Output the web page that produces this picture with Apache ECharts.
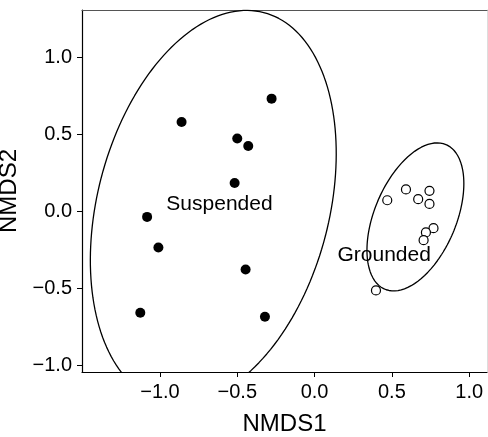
<!DOCTYPE html>
<html>
<head>
<meta charset="utf-8">
<title>NMDS</title>
<script src="https://cdn.jsdelivr.net/npm/echarts@6/dist/echarts.min.js"></script>
<style>
  html, body { margin: 0; padding: 0; background: #fff; }
  #main { width: 488px; height: 437px; }
</style>
</head>
<body>
<div id="main"></div>
<script>
// NMDS scores
var suspendedX = [-0.278, -0.86, -0.50, -0.429, -0.517, -1.083, -1.01, -0.446, -1.127, -0.321];
var suspendedY = [0.732, 0.581, 0.473, 0.425, 0.185, -0.035, -0.233, -0.376, -0.657, -0.683];
var groundedX = [0.47, 0.591, 0.670, 0.743, 0.743, 0.769, 0.720, 0.705, 0.397];
var groundedY = [0.073, 0.143, 0.080, 0.134, 0.049, -0.108, -0.136, -0.186, -0.512];

// ellipses: [centre x, centre y, semi-major, semi-minor, angle in degrees]
var suspendedEllipse = [-0.655, 0.03, 1.302, 0.749, 75.5];
var groundedEllipse = [0.652, -0.035, 0.509, 0.264, 67.2];

var groupLabels = ['Suspended', 'Grounded'];
var labelX = [-0.615, 0.45];
var labelY = [0.049, -0.282];

var tickValues = [-1.0, -0.5, 0.0, 0.5, 1.0];

var font = '"Liberation Sans", Arial, Helvetica, sans-serif';

function zipXY(xs, ys) {
  var out = [];
  for (var i = 0; i < xs.length; i++) out.push([xs[i], ys[i]]);
  return out;
}

function ellipsePoints(e) {
  var cx = e[0], cy = e[1], a = e[2], b = e[3], t = e[4] * Math.PI / 180;
  var pts = [];
  for (var k = 0; k <= 180; k++) {
    var p = 2 * Math.PI * k / 180;
    var ex = a * Math.cos(p), ey = b * Math.sin(p);
    pts.push([cx + ex * Math.cos(t) - ey * Math.sin(t), cy + ex * Math.sin(t) + ey * Math.cos(t)]);
  }
  return pts;
}

function fmt(v) {
  return (v < 0 ? '\u2212' : '') + Math.abs(v).toFixed(1);
}

var xMin = -1.504, xMax = 1.115, yMin = -1.041, yMax = 1.307;

var chart = echarts.init(document.getElementById('main'));

var labelData = [];
for (var i = 0; i < groupLabels.length; i++) {
  labelData.push({ name: groupLabels[i], value: [labelX[i], labelY[i]] });
}

chart.setOption({
  animation: false,
  grid: { left: 82, right: 1, top: 10, bottom: 65, containLabel: false, outerBoundsMode: 'none' },
  xAxis: [{
    type: 'value', min: xMin, max: xMax,
    name: 'NMDS1', nameLocation: 'middle', nameGap: 40,
    nameTextStyle: { fontFamily: font, fontSize: 24, color: '#000' },
    splitLine: { show: false },
    axisLine: { onZero: false, lineStyle: { color: '#000', width: 1.2 } },
    axisTick: { show: true, customValues: tickValues, length: 5, lineStyle: { color: '#000' } },
    axisLabel: { customValues: tickValues, formatter: fmt, fontFamily: font, fontSize: 20, color: '#000', margin: 10 }
  }, {
    type: 'value', position: 'top', min: xMin, max: xMax,
    splitLine: { show: false }, axisTick: { show: false }, axisLabel: { show: false },
    axisLine: { onZero: false, lineStyle: { color: '#555', width: 1.2 } }
  }],
  yAxis: [{
    type: 'value', min: yMin, max: yMax,
    name: 'NMDS2', nameLocation: 'middle', nameGap: 45,
    nameTextStyle: { fontFamily: font, fontSize: 24, color: '#000' },
    splitLine: { show: false },
    axisLine: { show: true, onZero: false, lineStyle: { color: '#000', width: 1.2 } },
    axisTick: { show: true, customValues: tickValues, length: 5, lineStyle: { color: '#000' } },
    axisLabel: { customValues: tickValues, formatter: fmt, fontFamily: font, fontSize: 20, color: '#000', margin: 10 }
  }, {
    type: 'value', position: 'right', min: yMin, max: yMax,
    splitLine: { show: false }, axisTick: { show: false }, axisLabel: { show: false },
    axisLine: { show: true, onZero: false, lineStyle: { color: '#ddd', width: 1 } }
  }],
  series: [{
    name: 'Suspended ellipse', type: 'line', data: ellipsePoints(suspendedEllipse),
    showSymbol: false, smooth: false, clip: true,
    lineStyle: { color: '#000', width: 1.3 }, silent: true
  }, {
    name: 'Grounded ellipse', type: 'line', data: ellipsePoints(groundedEllipse),
    showSymbol: false, smooth: false, clip: true,
    lineStyle: { color: '#000', width: 1.3 }, silent: true
  }, {
    name: 'Suspended', type: 'scatter', data: zipXY(suspendedX, suspendedY),
    symbol: 'circle', symbolSize: 10,
    itemStyle: { color: '#000', opacity: 1 }
  }, {
    name: 'Grounded', type: 'scatter', data: zipXY(groundedX, groundedY),
    symbol: 'circle', symbolSize: 9,
    itemStyle: { color: '#fff', borderColor: '#000', borderWidth: 1.2, opacity: 1 }
  }, {
    name: 'Labels', type: 'scatter', data: labelData,
    symbolSize: 0, silent: true,
    itemStyle: { opacity: 1 },
    label: {
      show: true, position: 'inside', formatter: '{b}',
      fontFamily: font, fontSize: 21, color: '#000', opacity: 1
    }
  }]
});
</script>
</body>
</html>
